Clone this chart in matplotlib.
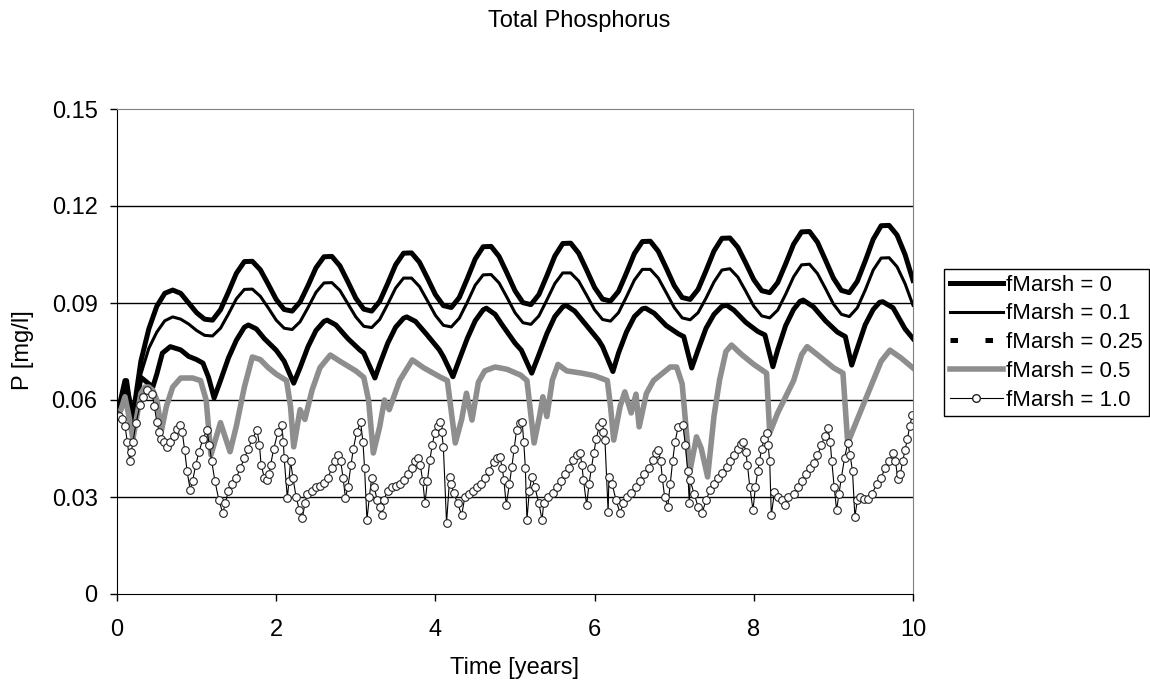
import numpy as np
import matplotlib.pyplot as plt
from matplotlib.lines import Line2D

plt.rcParams['font.family'] = ['Liberation Sans', 'DejaVu Sans']

# smooth curves read every 0.1 year
t_grid = np.round(np.arange(101) * 0.1, 1)

p_fm0 = [0.055, 0.066, 0.055, 0.072, 0.082, 0.089, 0.093, 0.094, 0.093, 0.090,
         0.087, 0.085, 0.0847, 0.0879, 0.0934, 0.0992, 0.1028, 0.1029, 0.1003, 0.0958,
         0.0911, 0.0880, 0.0875, 0.0903, 0.0954, 0.1009, 0.1043, 0.1044, 0.1015, 0.0966,
         0.0915, 0.0881, 0.0875, 0.0905, 0.0960, 0.1018, 0.1054, 0.1055, 0.1026, 0.0977,
         0.0926, 0.0892, 0.0886, 0.0917, 0.0975, 0.1036, 0.1074, 0.1075, 0.1044, 0.0992,
         0.0938, 0.0901, 0.0895, 0.0926, 0.0984, 0.1045, 0.1084, 0.1085, 0.1054, 0.1002,
         0.0948, 0.0912, 0.0906, 0.0936, 0.0993, 0.1053, 0.1090, 0.1091, 0.1060, 0.1008,
         0.0954, 0.0917, 0.0911, 0.0942, 0.1000, 0.1061, 0.1100, 0.1101, 0.1072, 0.1023,
         0.0972, 0.0938, 0.0932, 0.0963, 0.1021, 0.1082, 0.1120, 0.1121, 0.1088, 0.1033,
         0.0977, 0.0939, 0.0932, 0.0967, 0.1030, 0.1097, 0.1139, 0.1140, 0.1110, 0.1050,
         0.0970]

p_fm01 = [0.055, 0.066, 0.053, 0.068, 0.076, 0.081, 0.0845, 0.0857, 0.0850, 0.0835,
          0.0815, 0.0800, 0.0798, 0.0822, 0.0866, 0.0913, 0.0942, 0.0943, 0.0921, 0.0885,
          0.0847, 0.0822, 0.0818, 0.0842, 0.0886, 0.0933, 0.0962, 0.0963, 0.0939, 0.0898,
          0.0857, 0.0828, 0.0824, 0.0849, 0.0896, 0.0946, 0.0977, 0.0977, 0.0951, 0.0907,
          0.0862, 0.0831, 0.0826, 0.0853, 0.0902, 0.0955, 0.0987, 0.0988, 0.0962, 0.0917,
          0.0870, 0.0839, 0.0834, 0.0860, 0.0909, 0.0960, 0.0993, 0.0993, 0.0968, 0.0924,
          0.0879, 0.0849, 0.0844, 0.0870, 0.0919, 0.0971, 0.1004, 0.1004, 0.0977, 0.0932,
          0.0886, 0.0854, 0.0848, 0.0870, 0.0915, 0.0965, 0.1002, 0.1006, 0.0980, 0.0936,
          0.0890, 0.0860, 0.0854, 0.0878, 0.0927, 0.0981, 0.1018, 0.1020, 0.0991, 0.0945,
          0.0897, 0.0865, 0.0858, 0.0885, 0.0940, 0.1002, 0.1039, 0.1040, 0.1012, 0.0960,
          0.0893]

t_fm025 = [0.0, 0.12, 0.2, 0.3, 0.35, 0.45, 0.5, 0.57, 0.67, 0.8,
           0.9, 1.0, 1.08, 1.15, 1.22, 1.3, 1.4, 1.5, 1.6, 1.65,
           1.75, 1.85, 2.0, 2.1, 2.22, 2.3, 2.4, 2.5, 2.6, 2.64,
           2.75, 2.9, 3.05, 3.1, 3.24, 3.3, 3.4, 3.5, 3.6, 3.64,
           3.75, 3.9, 4.05, 4.1, 4.22, 4.3, 4.4, 4.5, 4.6, 4.64,
           4.75, 4.84, 5.0, 5.08, 5.21, 5.3, 5.4, 5.5, 5.6, 5.64,
           5.75, 5.9, 6.05, 6.1, 6.23, 6.3, 6.4, 6.5, 6.6, 6.64,
           6.75, 6.9, 7.05, 7.12, 7.22, 7.3, 7.4, 7.5, 7.6, 7.66,
           7.75, 7.9, 8.05, 8.14, 8.24, 8.3, 8.4, 8.5, 8.58, 8.62,
           8.75, 8.9, 9.05, 9.15, 9.23, 9.3, 9.4, 9.5, 9.58, 9.62,
           9.75, 9.9, 10.0]
p_fm025 = [0.055, 0.066, 0.052, 0.067, 0.066, 0.064, 0.068, 0.0745, 0.0765, 0.0755,
           0.0735, 0.0725, 0.0714, 0.067, 0.0606, 0.066, 0.073, 0.0785, 0.0825, 0.0832,
           0.082, 0.079, 0.0754, 0.072, 0.0652, 0.070, 0.0765, 0.0815, 0.0843, 0.0847,
           0.0832, 0.079, 0.0755, 0.0745, 0.0668, 0.071, 0.0775, 0.0825, 0.0853, 0.0857,
           0.0843, 0.080, 0.0755, 0.0734, 0.0672, 0.0725, 0.079, 0.0845, 0.0879, 0.0884,
           0.0865, 0.0832, 0.0776, 0.0754, 0.0683, 0.074, 0.0805, 0.0858, 0.0888, 0.0893,
           0.0875, 0.083, 0.0785, 0.0765, 0.0688, 0.0745, 0.081, 0.0858, 0.0882, 0.0884,
           0.0868, 0.083, 0.0805, 0.0796, 0.0699, 0.0755, 0.0822, 0.0865, 0.089, 0.0893,
           0.0878, 0.084, 0.0812, 0.0801, 0.0703, 0.0755, 0.083, 0.088, 0.0905, 0.0909,
           0.0888, 0.0845, 0.081, 0.0796, 0.0708, 0.076, 0.0833, 0.088, 0.0902, 0.0904,
           0.0885, 0.082, 0.079]

t_fm05 = [0.0, 0.05, 0.1, 0.15, 0.2, 0.25, 0.3, 0.35, 0.4, 0.45,
          0.5, 0.56, 0.62, 0.7, 0.8, 0.95, 1.05, 1.12, 1.18, 1.3,
          1.42, 1.5, 1.6, 1.7, 1.8, 1.9, 2.0, 2.13, 2.18, 2.22,
          2.3, 2.36, 2.45, 2.55, 2.68, 2.8, 3.0, 3.1, 3.16, 3.22,
          3.3, 3.36, 3.42, 3.55, 3.71, 3.85, 4.06, 4.15, 4.25, 4.33,
          4.39, 4.46, 4.54, 4.62, 4.75, 4.9, 5.07, 5.15, 5.24, 5.31,
          5.35, 5.4, 5.47, 5.54, 5.65, 5.84, 6.0, 6.16, 6.2, 6.24,
          6.32, 6.38, 6.46, 6.52, 6.56, 6.65, 6.74, 6.95, 7.03, 7.1,
          7.17, 7.2, 7.28, 7.34, 7.42, 7.5, 7.57, 7.65, 7.72, 7.85,
          8.0, 8.16, 8.2, 8.3, 8.4, 8.5, 8.6, 8.67, 8.8, 9.0,
          9.12, 9.18, 9.3, 9.4, 9.5, 9.6, 9.71, 9.85, 10.0]
p_fm05 = [0.055, 0.057, 0.061, 0.055, 0.048, 0.055, 0.062, 0.064, 0.064, 0.063,
          0.060, 0.0507, 0.058, 0.064, 0.0668, 0.0668, 0.066, 0.060, 0.043, 0.053,
          0.044, 0.052, 0.064, 0.0733, 0.0725, 0.070, 0.068, 0.066, 0.058, 0.0455,
          0.057, 0.054, 0.063, 0.070, 0.0739, 0.072, 0.069, 0.067, 0.060, 0.0436,
          0.0517, 0.060, 0.057, 0.066, 0.0724, 0.070, 0.0671, 0.066, 0.0467, 0.054,
          0.0621, 0.0538, 0.0655, 0.069, 0.0702, 0.0695, 0.0677, 0.066, 0.0467, 0.0552,
          0.061, 0.0549, 0.0662, 0.0710, 0.069, 0.0683, 0.0675, 0.066, 0.058, 0.0476,
          0.058, 0.0625, 0.056, 0.0618, 0.0517, 0.062, 0.066, 0.0702, 0.0702, 0.065,
          0.0455, 0.0383, 0.0486, 0.045, 0.0362, 0.055, 0.0662, 0.075, 0.077, 0.074,
          0.071, 0.0683, 0.0498, 0.056, 0.061, 0.066, 0.074, 0.0765, 0.074, 0.070,
          0.0683, 0.0467, 0.054, 0.060, 0.066, 0.072, 0.0754, 0.073, 0.0699]

t_fm1 = [0.0, 0.03, 0.06, 0.1, 0.13, 0.16, 0.18, 0.2, 0.24, 0.29,
         0.33, 0.38, 0.44, 0.47, 0.5, 0.53, 0.55, 0.59, 0.63, 0.67,
         0.71, 0.75, 0.79, 0.82, 0.85, 0.88, 0.92, 0.95, 0.99, 1.03,
         1.08, 1.13, 1.16, 1.19, 1.23, 1.28, 1.33, 1.36, 1.4, 1.45,
         1.5, 1.55, 1.6, 1.65, 1.7, 1.76, 1.79, 1.81, 1.85, 1.88,
         1.91, 1.93, 1.97, 2.02, 2.07, 2.09, 2.1, 2.14, 2.16, 2.18,
         2.21, 2.25, 2.29, 2.33, 2.36, 2.39, 2.45, 2.5, 2.55, 2.6,
         2.65, 2.7, 2.74, 2.78, 2.81, 2.84, 2.87, 2.9, 2.94, 2.97,
         3.01, 3.06, 3.09, 3.11, 3.14, 3.17, 3.2, 3.23, 3.27, 3.3,
         3.33, 3.35, 3.4, 3.45, 3.5, 3.55, 3.6, 3.65, 3.7, 3.74,
         3.78, 3.81, 3.84, 3.87, 3.9, 3.93, 3.96, 3.99, 4.03, 4.06,
         4.08, 4.1, 4.14, 4.18, 4.2, 4.23, 4.28, 4.33, 4.37, 4.42,
         4.47, 4.52, 4.57, 4.62, 4.67, 4.73, 4.78, 4.81, 4.84, 4.86,
         4.89, 4.93, 4.96, 4.99, 5.02, 5.06, 5.09, 5.11, 5.13, 5.15,
         5.18, 5.21, 5.25, 5.3, 5.34, 5.36, 5.42, 5.48, 5.53, 5.58,
         5.63, 5.68, 5.73, 5.78, 5.82, 5.84, 5.86, 5.9, 5.93, 5.96,
         5.99, 6.02, 6.06, 6.09, 6.11, 6.13, 6.17, 6.18, 6.22, 6.27,
         6.32, 6.36, 6.41, 6.46, 6.52, 6.57, 6.62, 6.68, 6.73, 6.77,
         6.8, 6.83, 6.85, 6.88, 6.92, 6.95, 6.98, 7.01, 7.05, 7.11,
         7.14, 7.17, 7.19, 7.2, 7.25, 7.3, 7.35, 7.4, 7.45, 7.5,
         7.55, 7.6, 7.66, 7.7, 7.75, 7.8, 7.84, 7.87, 7.9, 7.92,
         7.95, 7.99, 8.02, 8.05, 8.07, 8.1, 8.13, 8.16, 8.18, 8.2,
         8.22, 8.26, 8.3, 8.35, 8.39, 8.43, 8.5, 8.55, 8.6, 8.65,
         8.7, 8.75, 8.8, 8.85, 8.89, 8.93, 8.96, 8.98, 9.01, 9.04,
         9.07, 9.1, 9.14, 9.18, 9.21, 9.24, 9.27, 9.3, 9.33, 9.38,
         9.43, 9.48, 9.55, 9.6, 9.65, 9.7, 9.75, 9.78, 9.81, 9.84,
         9.87, 9.9, 9.93, 9.96, 9.99]
p_fm1 = [0.0553, 0.055, 0.054, 0.052, 0.047, 0.041, 0.044, 0.047, 0.053, 0.0585,
         0.061, 0.063, 0.062, 0.058, 0.0532, 0.050, 0.048, 0.047, 0.0455, 0.047,
         0.049, 0.051, 0.0523, 0.050, 0.0445, 0.038, 0.0322, 0.035, 0.040, 0.044,
         0.048, 0.0507, 0.046, 0.041, 0.035, 0.029, 0.025, 0.028, 0.032, 0.034,
         0.036, 0.039, 0.042, 0.045, 0.048, 0.0507, 0.046, 0.040, 0.036, 0.0353,
         0.037, 0.040, 0.045, 0.050, 0.0523, 0.047, 0.042, 0.0297, 0.035, 0.041,
         0.036, 0.030, 0.026, 0.0235, 0.028, 0.031, 0.032, 0.033, 0.0335, 0.0343,
         0.036, 0.039, 0.041, 0.043, 0.041, 0.036, 0.0297, 0.033, 0.040, 0.045,
         0.050, 0.0532, 0.047, 0.039, 0.0229, 0.030, 0.036, 0.033, 0.029, 0.027,
         0.0244, 0.029, 0.032, 0.033, 0.0335, 0.034, 0.0353, 0.037, 0.039, 0.041,
         0.042, 0.040, 0.035, 0.0281, 0.035, 0.0414, 0.046, 0.0497, 0.052, 0.0532,
         0.050, 0.0455, 0.022, 0.0362, 0.034, 0.0312, 0.028, 0.0244, 0.030, 0.031,
         0.032, 0.0331, 0.034, 0.036, 0.038, 0.0408, 0.042, 0.0424, 0.039, 0.0353,
         0.0275, 0.034, 0.0393, 0.045, 0.0507, 0.053, 0.0532, 0.047, 0.039, 0.0229,
         0.032, 0.0362, 0.033, 0.028, 0.0229, 0.028, 0.030, 0.0312, 0.033, 0.035,
         0.037, 0.039, 0.0414, 0.043, 0.0435, 0.040, 0.0353, 0.0275, 0.034, 0.039,
         0.0435, 0.048, 0.052, 0.0532, 0.050, 0.0477, 0.0253, 0.0362, 0.034, 0.029,
         0.025, 0.028, 0.030, 0.0312, 0.033, 0.035, 0.037, 0.039, 0.0414, 0.0435,
         0.0445, 0.041, 0.036, 0.030, 0.027, 0.034, 0.041, 0.047, 0.0517, 0.0523,
         0.046, 0.038, 0.0281, 0.0352, 0.031, 0.027, 0.025, 0.029, 0.0322, 0.034,
         0.036, 0.0375, 0.0393, 0.041, 0.043, 0.045, 0.0465, 0.047, 0.044, 0.040,
         0.033, 0.026, 0.033, 0.038, 0.041, 0.045, 0.048, 0.0497, 0.046, 0.041,
         0.0244, 0.0316, 0.030, 0.029, 0.0275, 0.030, 0.031, 0.0331, 0.035, 0.037,
         0.039, 0.0405, 0.043, 0.046, 0.049, 0.0513, 0.047, 0.041, 0.033, 0.026,
         0.031, 0.036, 0.042, 0.0467, 0.043, 0.038, 0.0238, 0.029, 0.030, 0.0295,
         0.0295, 0.031, 0.034, 0.036, 0.039, 0.041, 0.0435, 0.041, 0.0355, 0.037,
         0.041, 0.0445, 0.048, 0.052, 0.0553]

labels = ['fMarsh = 0', 'fMarsh = 0.1', 'fMarsh = 0.25', 'fMarsh = 0.5', 'fMarsh = 1.0']
x_ticks = [0, 2, 4, 6, 8, 10]
y_ticks = [0, 0.03, 0.06, 0.09, 0.12, 0.15]
y_ticklabels = ['0', '0.03', '0.06', '0.09', '0.12', '0.15']

gray = '#8e8e8e'

fig = plt.figure(figsize=(11.5, 6.86), dpi=100)
ax = fig.add_axes([117 / 1150, 1 - 594 / 686, 796 / 1150, 485 / 686])

for y in y_ticks[1:-1]:
    ax.axhline(y, color='black', lw=1, zorder=0.5)

ax.plot(t_grid, p_fm0, color='black', lw=3.6, solid_joinstyle='round')
ax.plot(t_grid, p_fm01, color='black', lw=2.2, solid_joinstyle='round')
ax.plot(t_fm025, p_fm025, color='black', lw=3.6, solid_joinstyle='round')
ax.plot(t_fm05, p_fm05, color=gray, lw=4, solid_joinstyle='round')
ax.plot(t_fm1, p_fm1, color='black', lw=0.8, marker='o', ms=5.5,
        mfc='white', mec='#222222', mew=0.8)

ax.set_xlim(0, 10)
ax.set_ylim(0, 0.15)
ax.set_xticks(x_ticks)
ax.set_yticks(y_ticks)
ax.set_yticklabels(y_ticklabels)
ax.tick_params(axis='both', direction='out', length=5, width=1, labelsize=17)
ax.tick_params(axis='y', pad=9)
ax.tick_params(axis='x', pad=13)
for side in ['left', 'bottom']:
    ax.spines[side].set_color('black')
for side in ['top', 'right']:
    ax.spines[side].set_color('#808080')

fig.text(0.504, 1 - 21 / 686, 'Total Phosphorus', ha='center', va='center', fontsize=17)
fig.text(515 / 1150, 1 - 668 / 686, 'Time [years]', ha='center', va='center', fontsize=17)
fig.text(23 / 1150, 1 - 350 / 686, 'P [mg/l]', rotation=90, ha='center', va='center', fontsize=17)

handles = [
    Line2D([], [], color='black', lw=3.6),
    Line2D([], [], color='black', lw=2.2),
    Line2D([], [], color='black', lw=3.6, dashes=(1.5, 5.5), dash_capstyle='butt'),
    Line2D([], [], color=gray, lw=4),
    Line2D([], [], color='black', lw=0.8, marker='o', ms=5.5, mfc='white', mec='#222222'),
]
leg = fig.legend(handles, labels, loc='upper left', bbox_to_anchor=(944 / 1150, 1 - 269 / 686),
                 bbox_transform=fig.transFigure, fontsize=16, frameon=True, fancybox=False,
                 edgecolor='black', framealpha=1, handlelength=2.4, handletextpad=0.15,
                 labelspacing=0.35, borderpad=0.25, borderaxespad=0)
leg.get_frame().set_linewidth(1)

fig.savefig('out.png', dpi=100)
